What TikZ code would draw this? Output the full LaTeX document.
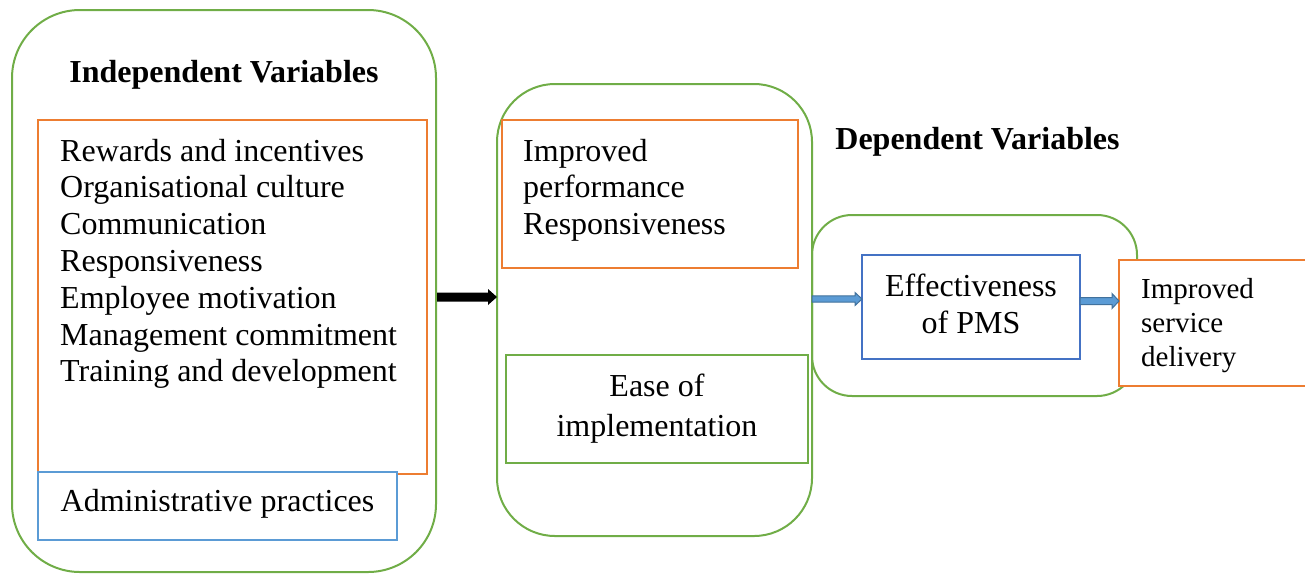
\documentclass[tikz,border=0pt]{standalone}
\usepackage{fontspec}
\setmainfont{Liberation Serif}
\usetikzlibrary{calc}
\definecolor{grn}{HTML}{70AD47}
\definecolor{org}{HTML}{ED7D31}
\definecolor{lblue}{HTML}{5B9BD5}
\definecolor{dblue}{HTML}{4472C4}
\definecolor{arrfill}{HTML}{5B9BD5}
\definecolor{arrline}{HTML}{41719C}
\begin{document}
\begin{tikzpicture}[x=1pt,y=-1pt,
  gbox/.style={draw=grn, line width=2pt, inner sep=0pt, outer sep=0pt},
  obox/.style={draw=org, line width=2pt, inner sep=0pt, outer sep=0pt},
  bbox/.style={line width=2pt, inner sep=0pt, outer sep=0pt},
  body/.style={font=\fontsize{32}{36.8}\selectfont, inner sep=0pt, align=left},
  title/.style={font=\fontsize{32}{36.8}\selectfont\bfseries, inner sep=0pt, anchor=base},
  small/.style={font=\fontsize{29}{34}\selectfont, inner sep=0pt, align=left},
  blockarr/.style={fill=arrfill, draw=arrline, line width=1pt}
]
\useasboundingbox (0,0) rectangle (1305,574);

% containers
\node[gbox, rounded corners=68pt, minimum width=424pt, minimum height=562pt] (indep) at (224,291) {};
\node[gbox, rounded corners=58pt, minimum width=315pt, minimum height=452pt] (mid) at (654.5,310) {};
\node[gbox, rounded corners=40pt, minimum width=325pt, minimum height=181pt] (dep) at (974.5,305.5) {};

% inner boxes
\node[obox, minimum width=389pt, minimum height=354pt] (factors) at (232.5,297) {};
\node[bbox, draw=lblue, fill=white, minimum width=359pt, minimum height=68pt] (admin) at (217.5,506) {};
\node[obox, minimum width=296pt, minimum height=148pt] (perf) at (650,194) {};
\node[gbox, minimum width=302pt, minimum height=108pt] (ease) at (657,409) {};
\node[bbox, draw=dblue, minimum width=218pt, minimum height=104pt] (pms) at (971,307) {};
\node[obox, fill=white, minimum width=196pt, minimum height=126pt] (svc) at (1217,323) {};

% texts (base anchor = baseline of the last line)
\node[title] (tindep) at (224,82) {Independent Variables};
\node[title] (tdep) at (977.5,149) {Dependent Variables};
\node[body, anchor=base west] (tfactors) at (60,381.8) {Rewards and incentives\\Organisational culture\\Communication\\Responsiveness\\Employee motivation\\Management commitment\\Training and development};
\node[body, anchor=base] (tadmin) at (217.5,511) {Administrative practices};
\node[body, anchor=base west] (tperf) at (523,234.6) {Improved\\performance\\Responsiveness};
\node[font=\fontsize{32}{40}\selectfont, inner sep=0pt, align=center, anchor=base] (tease) at (657,436) {Ease of\\implementation};
\node[body, align=center, anchor=base] (tpms) at (971,333) {Effectiveness\\of PMS};
\node[small, anchor=base west] (tsvc) at (1141,366) {Improved\\service\\delivery};

% arrows
\coordinate (ya) at (0,297);
\coordinate (yb) at (0,299);
\coordinate (yc) at (0,301);
\coordinate (a1) at (indep.east |- ya);
\coordinate (a2) at (mid.west |- ya);
\coordinate (b1) at (mid.east |- yb);
\coordinate (b2) at (pms.west |- yb);
\coordinate (c1) at (pms.east |- yc);
\coordinate (c2) at (svc.west |- yc);

\fill[black] ($(a1)+(1,-4.5)$) -- ($(a2)+(-9,-4.5)$) -- ($(a2)+(-9,-8)$) -- (a2) -- ($(a2)+(-9,8)$) -- ($(a2)+(-9,4.5)$) -- ($(a1)+(1,4.5)$) -- cycle;
\draw[blockarr] ($(b1)+(0,-3.2)$) -- ($(b2)+(-7,-3.2)$) -- ($(b2)+(-7,-6.5)$) -- (b2) -- ($(b2)+(-7,6.5)$) -- ($(b2)+(-7,3.2)$) -- ($(b1)+(0,3.2)$) -- cycle;
\draw[blockarr] ($(c1)+(0,-3.5)$) -- ($(c2)+(-7,-3.5)$) -- ($(c2)+(-7,-7.5)$) -- (c2) -- ($(c2)+(-7,7.5)$) -- ($(c2)+(-7,3.5)$) -- ($(c1)+(0,3.5)$) -- cycle;
\end{tikzpicture}
\end{document}
